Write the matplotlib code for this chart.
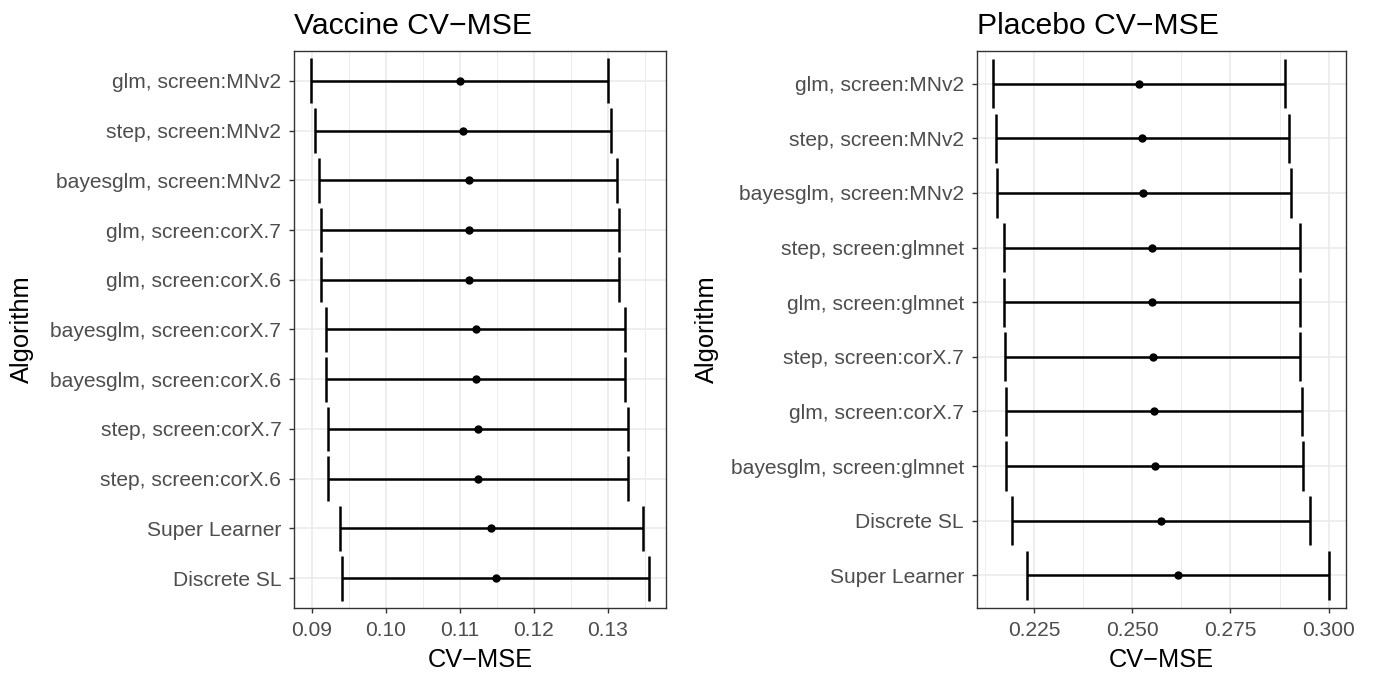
import matplotlib
matplotlib.use("Agg")
import matplotlib.pyplot as plt
import numpy as np
from matplotlib.ticker import MultipleLocator

plt.rcParams['font.family'] = ['Liberation Sans', 'DejaVu Sans']

# ---------------- data ----------------
vac_labels = ["glm, screen:MNv2", "step, screen:MNv2", "bayesglm, screen:MNv2",
              "glm, screen:corX.7", "glm, screen:corX.6", "bayesglm, screen:corX.7",
              "bayesglm, screen:corX.6", "step, screen:corX.7", "step, screen:corX.6",
              "Super Learner", "Discrete SL"]
vac_est = [0.1100, 0.1105, 0.1112, 0.1113, 0.1113, 0.1122, 0.1122, 0.1125, 0.1125, 0.1142, 0.1149]
vac_lo = [0.0899, 0.0904, 0.0910, 0.0912, 0.0912, 0.0919, 0.0919, 0.0922, 0.0922, 0.0938, 0.0941]
vac_hi = [0.1300, 0.1305, 0.1313, 0.1315, 0.1315, 0.1324, 0.1324, 0.1328, 0.1328, 0.1348, 0.1356]

pla_labels = ["glm, screen:MNv2", "step, screen:MNv2", "bayesglm, screen:MNv2",
              "step, screen:glmnet", "glm, screen:glmnet", "step, screen:corX.7",
              "glm, screen:corX.7", "bayesglm, screen:glmnet", "Discrete SL",
              "Super Learner"]
pla_est = [0.2518, 0.2526, 0.2528, 0.2550, 0.2551, 0.2554, 0.2556, 0.2558, 0.2573, 0.2616]
pla_lo = [0.2145, 0.2153, 0.2155, 0.2173, 0.2174, 0.2176, 0.2178, 0.2179, 0.2194, 0.2231]
pla_hi = [0.2889, 0.2899, 0.2903, 0.2926, 0.2928, 0.2928, 0.2931, 0.2935, 0.2952, 0.3000]

vac_xticks = [0.09, 0.10, 0.11, 0.12, 0.13]
pla_xticks = [0.225, 0.250, 0.275, 0.300]

W, H = 1373, 675
fig = plt.figure(figsize=(W / 100, H / 100), dpi=100)
fig.patch.set_facecolor('white')


def px_axes(x0, y0, x1, y1):
    return fig.add_axes([x0 / W, 1 - y1 / H, (x1 - x0) / W, (y1 - y0) / H])


def panel(ax, labels, est, lo, hi, xticks, xlim, minor, title, fmt, ylab_x):
    n = len(labels)
    y = np.arange(n, 0, -1)  # first label at top
    ax.set_facecolor('white')
    ax.hlines(y, lo, hi, color='black', lw=1.8, zorder=3)
    ax.vlines(lo, y - 0.45, y + 0.45, color='black', lw=1.8, zorder=3)
    ax.vlines(hi, y - 0.45, y + 0.45, color='black', lw=1.8, zorder=3)
    ax.plot(est, y, 'o', color='black', ms=5, zorder=4)
    ax.set_xlim(*xlim)
    ax.set_ylim(0.4, n + 0.6)
    ax.set_yticks(y)
    ax.set_yticklabels(labels)
    ax.set_xticks(xticks)
    ax.set_xticklabels([fmt.format(v) for v in xticks])
    ax.xaxis.set_minor_locator(MultipleLocator(minor))
    ax.grid(True, which='major', color='#EBEBEB', lw=1.2, zorder=0)
    ax.grid(True, which='minor', axis='x', color='#EDEDED', lw=0.7, zorder=0)
    ax.set_axisbelow(True)
    for s in ax.spines.values():
        s.set_color('#333333')
        s.set_linewidth(1.0)
    ax.tick_params(axis='both', which='major', length=3.6, width=1.0, color='#333333',
                   labelcolor='#4D4D4D', labelsize=15.1, pad=5.5)
    ax.tick_params(axis='x', which='minor', length=0)
    ax.set_xlabel('CV\u2212MSE', fontsize=18.3, color='black', labelpad=6)
    ax.set_ylabel('Algorithm', fontsize=18.3, color='black')
    ax.yaxis.set_label_coords(ylab_x, 0.5)
    ax.set_title(title, fontsize=21.7, loc='left', pad=12, color='black')


ax1 = px_axes(294, 51, 666, 608)
panel(ax1, vac_labels, vac_est, vac_lo, vac_hi, vac_xticks, (0.08761, 0.13788), 0.005,
      'Vaccine CV\u2212MSE', '{:.2f}', -0.70)

ax2 = px_axes(976.7, 51, 1345.7, 608)
panel(ax2, pla_labels, pla_est, pla_lo, pla_hi, pla_xticks, (0.21041, 0.30433), 0.0125,
      'Placebo CV\u2212MSE', '{:.3f}', -0.698)

fig.savefig('out.png', dpi=100)
